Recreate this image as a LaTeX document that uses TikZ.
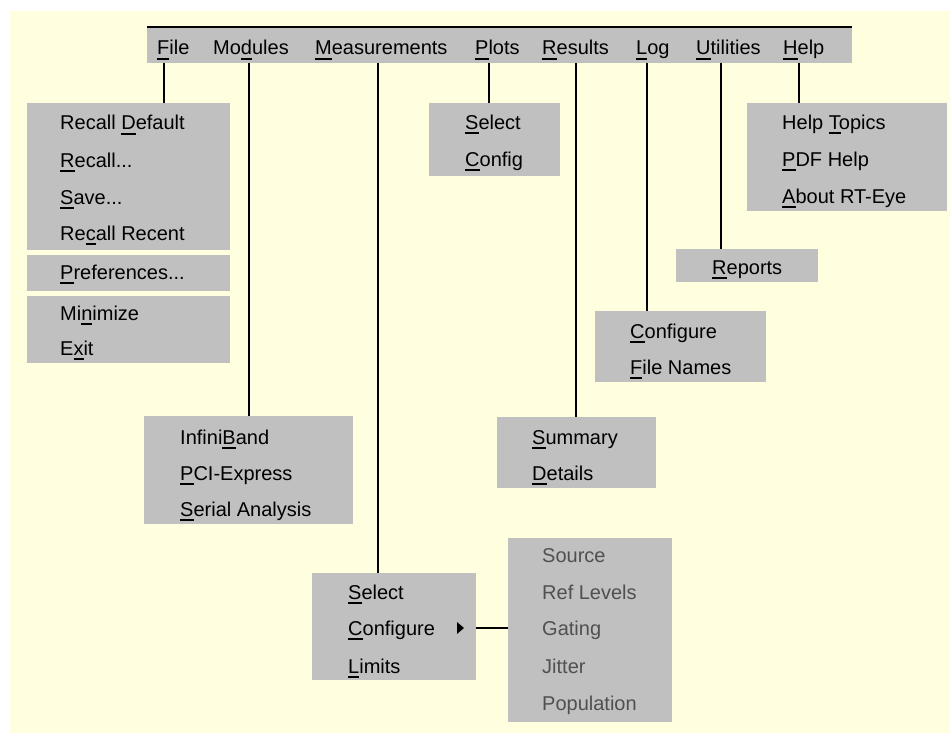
\documentclass[tikz,border=0pt]{standalone}
\usepackage{fontspec}
\setmainfont{Liberation Sans}
\usetikzlibrary{positioning}

\definecolor{memo}{RGB}{255,255,224}
\definecolor{menugray}{RGB}{192,192,192}
\definecolor{dimtext}{RGB}{80,80,80}

% mnemonic letter, underlined
\newcommand{\mn}[1]{\setbox0\hbox{#1}\rlap{\rule[-5pt]{\wd0}{1.6pt}}#1}

\begin{document}
\begin{tikzpicture}[x=1pt, y=-1pt,
    menubox/.style={fill=menugray, draw=none, anchor=north west, inner sep=0pt},
    item/.style={anchor=west, inner sep=0pt, text height=14pt, text depth=0pt,
                 font=\fontsize{20}{24}\selectfont},
    dimitem/.style={item, text=dimtext},
    link/.style={line width=1.5pt}]
    \useasboundingbox (0,0) rectangle (950,733);
    \fill[memo] (10,11) rectangle (950,733);

    % Menu bar
    \node[menubox, minimum width=705pt, minimum height=36pt] (menubar) at (147,27) {};
    \draw[line width=2pt] (menubar.north west) -- (menubar.north east);
    \node[item] (file)  at (157,48) {\mn{F}ile};
    \node[item] (modules) at (213,48) {Mo\mn{d}ules};
    \node[item] (meas)  at (315,48) {\mn{M}easurements};
    \node[item] (plots) at (475,48) {\mn{P}lots};
    \node[item] (results) at (542,48) {\mn{R}esults};
    \node[item] (log)   at (636,48) {\mn{L}og};
    \node[item] (util)  at (696,48) {\mn{U}tilities};
    \node[item] (help)  at (783,48) {\mn{H}elp};

    % File menu
    \node[menubox, minimum width=203pt, minimum height=147pt] (filebox) at (27,103) {};
    \node[menubox, minimum width=203pt, minimum height=36pt] (prefbox) at (27,255) {};
    \node[menubox, minimum width=203pt, minimum height=67pt] (minbox) at (27,296) {};
    \node[item] (recdef) at (60,123) {Recall \mn{D}efault};
    \node[item] (recall) at (60,160) {\mn{R}ecall...};
    \node[item] (save)   at (60,197) {\mn{S}ave...};
    \node[item] (recent) at (60,233) {Re\mn{c}all Recent};
    \node[item] (prefs)  at (60,272) {\mn{P}references...};
    \node[item] (mini)   at (60,313) {Mi\mn{n}imize};
    \node[item] (exit)   at (60,348) {E\mn{x}it};

    % Modules menu
    \node[menubox, minimum width=209pt, minimum height=108pt] (modbox) at (144,416) {};
    \node[item] (ib)     at (180,437) {Infini\mn{B}and};
    \node[item] (pcie)   at (180,473) {\mn{P}CI-Express};
    \node[item] (serial) at (180,509) {\mn{S}erial Analysis};

    % Measurements menu
    \node[menubox, minimum width=164pt, minimum height=107pt] (measbox) at (312,573) {};
    \node[item] (msel)   at (348,592) {\mn{S}elect};
    \node[item] (mcfg)   at (348,628) {\mn{C}onfigure};
    \node[item] (mlim)   at (348,666) {\mn{L}imits};
    \fill (457,622) -- (464,628) -- (457,634) -- cycle;

    % Configure submenu
    \node[menubox, minimum width=164pt, minimum height=184pt] (confbox) at (508,538) {};
    \node[dimitem] (src)  at (542,555) {Source};
    \node[dimitem] (ref)  at (542,592) {Ref Levels};
    \node[dimitem] (gate) at (542,628) {Gating};
    \node[dimitem] (jit)  at (542,666) {Jitter};
    \node[dimitem] (pop)  at (542,703) {Population};

    % Plots menu
    \node[menubox, minimum width=131pt, minimum height=73pt] (plotbox) at (429,103) {};
    \node[item] (psel) at (465,122) {\mn{S}elect};
    \node[item] (pcfg) at (465,159) {\mn{C}onfig};

    % Results menu
    \node[menubox, minimum width=159pt, minimum height=71pt] (resbox) at (497,417) {};
    \node[item] (summ) at (532,437) {\mn{S}ummary};
    \node[item] (det)  at (532,473) {\mn{D}etails};

    % Log menu
    \node[menubox, minimum width=171pt, minimum height=71pt] (logbox) at (595,311) {};
    \node[item] (lcfg)  at (630,331) {\mn{C}onfigure};
    \node[item] (lname) at (630,367) {\mn{F}ile Names};

    % Utilities menu
    \node[menubox, minimum width=142pt, minimum height=33pt] (utilbox) at (676,249) {};
    \node[item] (reports) at (712,267) {\mn{R}eports};

    % Help menu
    \node[menubox, minimum width=200pt, minimum height=108pt] (helpbox) at (747,103) {};
    \node[item] (topics) at (782,122) {Help \mn{T}opics};
    \node[item] (pdf)    at (782,159) {\mn{P}DF Help};
    \node[item] (about)  at (782,196) {\mn{A}bout RT-Eye};

    % Drop lines
    \coordinate (fileTop) at (164,63);
    \coordinate (modTop)  at (249,63);
    \coordinate (measTop) at (378,63);
    \coordinate (plotTop) at (489,63);
    \coordinate (resTop)  at (576,63);
    \coordinate (logTop)  at (647,63);
    \coordinate (utilTop) at (721,63);
    \coordinate (helpTop) at (799,63);
    \draw[link] (fileTop) -- (fileTop |- filebox.north);
    \draw[link] (modTop)  -- (modTop |- modbox.north);
    \draw[link] (measTop) -- (measTop |- measbox.north);
    \draw[link] (plotTop) -- (plotTop |- plotbox.north);
    \draw[link] (resTop)  -- (resTop |- resbox.north);
    \draw[link] (logTop)  -- (logTop |- logbox.north);
    \draw[link] (utilTop) -- (utilTop |- utilbox.north);
    \draw[link] (helpTop) -- (helpTop |- helpbox.north);
    \draw[link] (measbox.east |- mcfg) -- (confbox.west |- mcfg);
\end{tikzpicture}
\end{document}
